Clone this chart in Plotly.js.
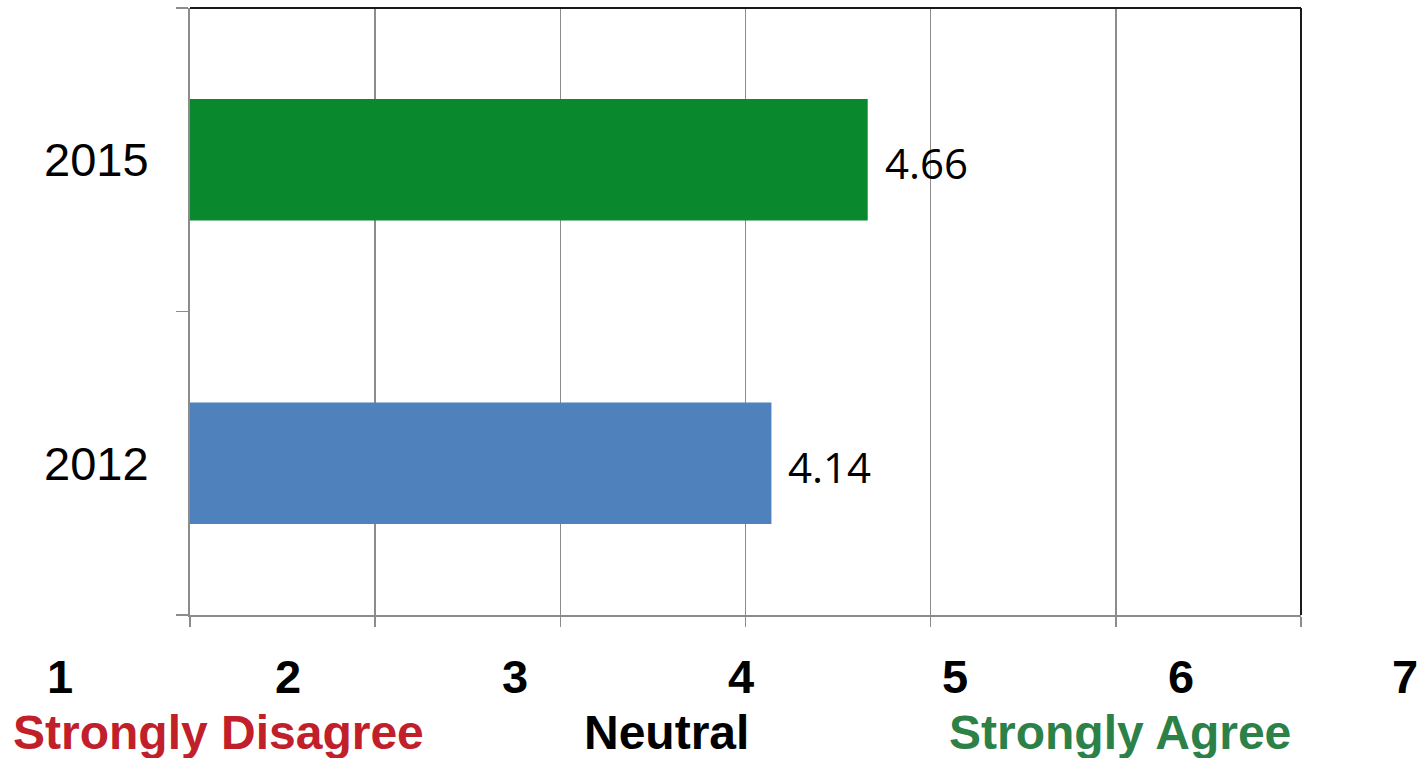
<!DOCTYPE html>
<html>
<head>
<meta charset="utf-8">
<script src="https://cdn.plot.ly/plotly-3.0.1.min.js"></script>
<style>html,body{margin:0;padding:0;background:#fff;}#chart{width:1426px;height:758px;}</style>
</head>
<body>
<div id="chart"></div>
<script>
// Data
var years = ['2012', '2015'];
var scores = [4.14, 4.66];
var barColors = ['#4F81BD', '#0A882E'];
var scaleTicks = ['1', '2', '3', '4', '5', '6', '7'];
var scaleLabels = ['Strongly Disagree', 'Neutral', 'Strongly Agree'];
var scaleLabelColors = ['#C1202A', '#000000', '#2B8148'];

// Layout geometry (pixels)
var W = 1426, H = 758;
var mL = 190, mR = 125, mT = 8, mB = 143;
var pw = W - mL - mR, ph = H - mT - mB;
function px(xPix) { return (xPix - mL) / pw; }
function py(yPix) { return (H - mB - yPix) / ph; }

var tickPixX = [60, 288, 515, 741, 955, 1181, 1405];
var labelPixX = [218, 666, 1120];

var annotations = [];
// Data labels
for (var i = 0; i < years.length; i++) {
  annotations.push({
    x: scores[i], y: i, xref: 'x', yref: 'y',
    text: scores[i].toFixed(2), showarrow: false,
    xanchor: 'left', yanchor: 'middle', xshift: 15, yshift: -3,
    font: {family: 'Open Sans, sans-serif', size: 42, color: '#000'}
  });
}
// Bottom scale numbers
for (var j = 0; j < scaleTicks.length; j++) {
  annotations.push({
    x: px(tickPixX[j]), y: py(676), xref: 'paper', yref: 'paper',
    text: '<b>' + scaleTicks[j] + '</b>', showarrow: false,
    xanchor: 'center', yanchor: 'middle',
    font: {family: 'Liberation Sans, Arial, sans-serif', size: 47, color: '#000'}
  });
}
for (var k = 0; k < scaleLabels.length; k++) {
  annotations.push({
    x: px(labelPixX[k]), y: py(732), xref: 'paper', yref: 'paper',
    text: '<b>' + scaleLabels[k] + '</b>', showarrow: false,
    xanchor: 'center', yanchor: 'middle',
    font: {family: 'Liberation Sans, Arial, sans-serif', size: 48, color: scaleLabelColors[k]}
  });
}

var trace = {
  type: 'bar', orientation: 'h',
  x: scores, y: years,
  width: 0.4,
  marker: {color: barColors, line: {width: 0}},
  hoverinfo: 'none'
};

var layout = {
  width: W, height: H,
  margin: {l: mL, r: mR, t: mT, b: mB, pad: 0},
  paper_bgcolor: '#fff', plot_bgcolor: '#fff',
  showlegend: false,
  xaxis: {
    range: [1, 7], dtick: 1, tick0: 1,
    showgrid: true, gridcolor: '#8C8C8C', gridwidth: 1.5,
    zeroline: false,
    showline: true, linecolor: '#8C8C8C', linewidth: 2,
    ticks: 'outside', ticklen: 10, tickcolor: '#8C8C8C', tickwidth: 1.5,
    showticklabels: false, fixedrange: true
  },
  yaxis: {
    type: 'category', categoryorder: 'array', categoryarray: years,
    range: [-0.5, 1.5], autorange: false,
    showgrid: false, zeroline: false,
    showline: true, linecolor: '#8C8C8C', linewidth: 2,
    ticks: 'outside', tickson: 'boundaries', ticklen: 12, tickcolor: '#8C8C8C', tickwidth: 1.5,
    ticklabelstandoff: 30,
    tickfont: {family: 'Liberation Sans, Arial, sans-serif', size: 47, color: '#000'},
    fixedrange: true
  },
  shapes: [
    {type: 'line', xref: 'paper', yref: 'paper', x0: 0, x1: 1, y0: 1, y1: 1, line: {color: '#1a1a1a', width: 2}},
    {type: 'line', xref: 'paper', yref: 'paper', x0: 1, x1: 1, y0: 0, y1: 1, line: {color: '#1a1a1a', width: 2}}
  ],
  annotations: annotations
};

Plotly.newPlot('chart', [trace], layout, {displayModeBar: false, staticPlot: true});
</script>
</body>
</html>
